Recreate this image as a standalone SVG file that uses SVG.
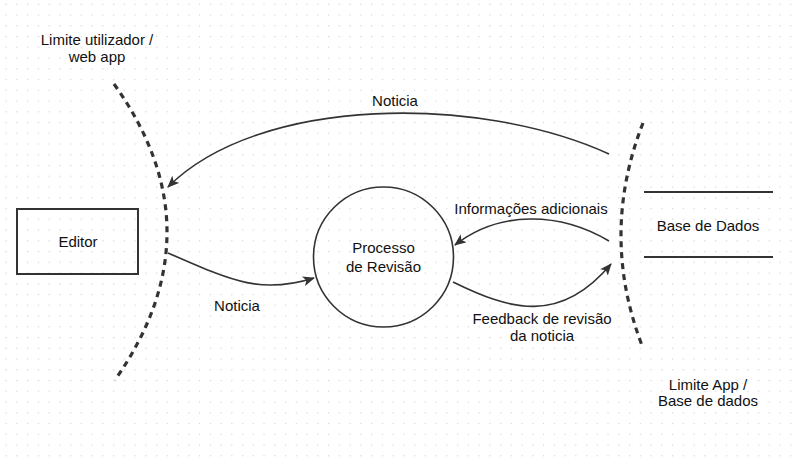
<svg xmlns="http://www.w3.org/2000/svg" width="795" height="458" viewBox="0 0 795 458">
<defs>
<pattern id="grid" x="0.6" y="-1.2" width="10.75" height="10.75" patternUnits="userSpaceOnUse">
<rect x="4.9" y="4.9" width="1.2" height="1.2" fill="#d4d4d4"/>
</pattern>
<marker id="arr" viewBox="0 0 12 10" refX="11" refY="5" markerWidth="12" markerHeight="10" markerUnits="userSpaceOnUse" orient="auto">
<path d="M0,0 L12,5 L0,10 L3,5 Z" fill="#333"/>
</marker>
<style>
text{font-family:"Liberation Sans",Arial,sans-serif;font-size:15px;fill:#111;text-anchor:middle;dominant-baseline:central}
.node{fill:none;stroke:#333;stroke-width:2}
.flow{fill:none;stroke:#333;stroke-width:1.6;marker-end:url(#arr)}
.bound{fill:none;stroke:#333;stroke-width:3.2;stroke-dasharray:6 5}
</style>
</defs>
<rect width="795" height="458" fill="#fff"/>
<rect width="795" height="458" fill="url(#grid)"/>
<g id="boundary-left">
<path class="bound" d="M114,84 Q219.5,231 115,380"/>
<text x="97" y="39.5">Limite utilizador /</text>
<text x="97" y="56">web app</text>
</g>
<g id="boundary-right">
<path class="bound" d="M643,123 Q599,235.5 643,348"/>
<text x="708" y="384">Limite App /</text>
<text x="708" y="400.5">Base de dados</text>
</g>
<g id="editor">
<rect class="node" x="17" y="209" width="121" height="65"/>
<text x="78" y="241">Editor</text>
</g>
<g id="processo">
<circle class="node" cx="383.5" cy="257" r="70" style="stroke-width:1.6"/>
<text x="383.5" y="247.5">Processo</text>
<text x="383.5" y="266">de Revisão</text>
</g>
<g id="base-dados">
<line class="node" x1="644" y1="192" x2="773" y2="192"/>
<line class="node" x1="644" y1="257" x2="773" y2="257"/>
<text x="708" y="225">Base de Dados</text>
</g>
<g id="connectors">
<path class="flow" d="M609,154 C480,95 260,95 168,187"/>
<text x="395" y="100">Noticia</text>
<path class="flow" d="M168,253 C230,280 260,295 314,278"/>
<text x="237" y="305">Noticia</text>
<path class="flow" d="M609,241 C560,212 500,210 455,245"/>
<text x="531" y="208">Informações adicionais</text>
<path class="flow" d="M453,282 C510,310 560,325 611,264"/>
<text x="542" y="318.5">Feedback de revisão</text>
<text x="542" y="335">da noticia</text>
</g>
</svg>
